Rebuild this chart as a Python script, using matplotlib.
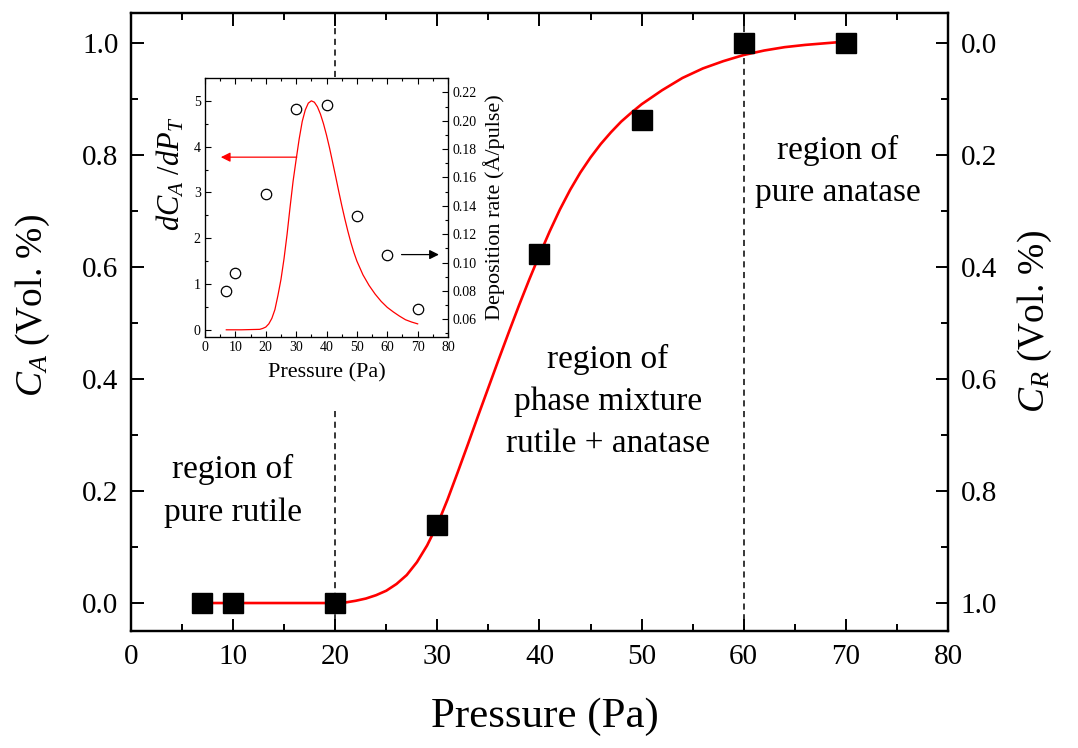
import matplotlib

matplotlib.use("Agg")
import matplotlib.pyplot as plt
from matplotlib.ticker import FormatStrFormatter, MultipleLocator

plt.rcParams["font.family"] = ["Liberation Serif", "DejaVu Serif"]
plt.rcParams["mathtext.fontset"] = "custom"
plt.rcParams["mathtext.rm"] = "Liberation Serif"
plt.rcParams["mathtext.it"] = "Liberation Serif:italic"

# Anatase fraction measured at each deposition pressure
pressure = [7, 10, 20, 30, 40, 50, 60, 70]
anatase_frac = [0.0, 0.0, 0.0, 0.14, 0.623, 0.862, 1.0, 1.0]

# Sigmoidal fit of the anatase fraction
fit_p = [7, 10, 15, 20, 21, 22, 23, 24, 25, 26, 27, 28, 29, 30, 31, 32, 33,
         34, 35, 36, 37, 38, 39, 40, 41, 42, 43, 44, 45, 46, 47, 48, 49, 50,
         52, 54, 56, 58, 60, 62, 64, 66, 68, 70]
fit_ca = [0.0, 0.0, 0.0, 0.0, 0.001, 0.004, 0.008, 0.014, 0.022, 0.034,
          0.050, 0.073, 0.103, 0.140, 0.185, 0.234, 0.284, 0.335, 0.385,
          0.435, 0.484, 0.532, 0.578, 0.622, 0.664, 0.703, 0.738, 0.769,
          0.796, 0.820, 0.841, 0.860, 0.876, 0.891, 0.916, 0.938, 0.955,
          0.968, 0.979, 0.987, 0.993, 0.997, 1.000, 1.003]

# Derivative of the fit (inset, left axis)
deriv_p = [7, 12, 18, 19, 20, 21, 22, 23, 24, 25, 26, 27, 28, 29, 30, 31, 32,
           33, 34, 35, 36, 37, 38, 39, 40, 41, 42, 43, 44, 45, 46, 47, 48, 49,
           50, 52, 54, 56, 58, 60, 62, 64, 66, 68, 70]
deriv_val = [0.0, 0.0, 0.01, 0.03, 0.06, 0.13, 0.25, 0.44, 0.75, 1.10, 1.55,
             2.08, 2.68, 3.25, 3.72, 4.17, 4.55, 4.80, 4.95, 5.0, 4.97, 4.87,
             4.71, 4.50, 4.25, 3.97, 3.66, 3.35, 3.03, 2.72, 2.43, 2.16, 1.91,
             1.69, 1.50, 1.20, 0.97, 0.78, 0.62, 0.49, 0.39, 0.30, 0.22, 0.17,
             0.13]

# Deposition rate (inset, right axis)
rate = [0.0802, 0.0925, 0.1485, 0.2083, 0.2113, 0.1325, 0.1054, 0.0671]

fig = plt.figure(figsize=(10.78, 7.48), dpi=100)
ax = fig.add_axes([0.1215, 0.1564, 0.7579, 0.8262])

ax.plot(fit_p, fit_ca, color="red", lw=1.9, zorder=3)
ax.plot(pressure, anatase_frac, ls="none", marker="s", ms=14,
        color="black", zorder=4)

dash = (0, (4, 3))
ax.axvline(20, ymin=0.0, ymax=0.358, color="black", ls=dash, lw=1.1)
ax.axvline(20, ymin=0.896, ymax=1.0, color="black", ls=dash, lw=1.1)
ax.axvline(60, color="black", ls=dash, lw=1.1, zorder=2)

ax.set_xlim(0, 80)
ax.set_ylim(-0.05, 1.054)
ax.xaxis.set_major_locator(MultipleLocator(10))
ax.xaxis.set_minor_locator(MultipleLocator(5))
ax.yaxis.set_major_locator(MultipleLocator(0.2))
ax.yaxis.set_minor_locator(MultipleLocator(0.1))
ax.yaxis.set_major_formatter(FormatStrFormatter("%.1f"))
ax.tick_params(which="both", direction="in", top=True, width=1.4,
               labelsize=21)
ax.tick_params(which="major", length=9, pad=9)
ax.tick_params(which="minor", length=5)
for s in ax.spines.values():
    s.set_linewidth(1.6)
ax.set_xlabel("Pressure (Pa)", fontsize=31)
ax.xaxis.set_label_coords(0.507, -0.108)
ax.set_ylabel("$C_A$ (Vol. %)", fontsize=27)
ax.yaxis.set_label_coords(-0.097, 0.527)

text_kw = dict(ha="center", va="center", fontsize=24, linespacing=1.5)
ax.text(10, 0.2, "region of\npure rutile", **text_kw)
ax.text(46.7, 0.36, "region of\nphase mixture\nrutile + anatase", **text_kw)
ax.text(69.2, 0.771, "region of\npure anatase", **text_kw)

# Rutile fraction on the mirrored right axis
ax_r = ax.twinx()
ax_r.set_ylim(1.05, -0.054)
ax_r.yaxis.set_major_locator(MultipleLocator(0.2))
ax_r.yaxis.set_minor_locator(MultipleLocator(0.1))
ax_r.yaxis.set_major_formatter(FormatStrFormatter("%.1f"))
ax_r.tick_params(which="both", direction="in", width=1.4, labelsize=21)
ax_r.tick_params(which="major", length=9, pad=9)
ax_r.tick_params(which="minor", length=5)
for s in ax_r.spines.values():
    s.set_linewidth(1.6)
ax_r.set_ylabel("$C_R$ (Vol. %)", fontsize=27)
ax_r.yaxis.set_label_coords(1.083, 0.5)

# Inset: derivative of the fit and deposition rate
ax_in = fig.add_axes([0.1902, 0.5499, 0.2254, 0.3459])
ax_in.set_zorder(5)
ax_in.plot(deriv_p, deriv_val, color="red", lw=0.9)
ax_in.set_xlim(0, 80)
ax_in.set_ylim(-0.15, 5.5)
ax_in.xaxis.set_major_locator(MultipleLocator(10))
ax_in.xaxis.set_minor_locator(MultipleLocator(5))
ax_in.yaxis.set_major_locator(MultipleLocator(1))
ax_in.yaxis.set_minor_locator(MultipleLocator(0.5))
ax_in.tick_params(which="both", direction="in", top=True, labelsize=10,
                  width=0.8, pad=3)
ax_in.tick_params(which="major", length=4)
ax_in.tick_params(which="minor", length=2)
for s in ax_in.spines.values():
    s.set_linewidth(0.9)
ax_in.set_xlabel("Pressure (Pa)", fontsize=16, labelpad=7)
ax_in.set_ylabel(r"$dC_A\ /dP_T$", fontsize=22)
ax_in.yaxis.set_label_coords(-0.075, 0.63)
ax_in.annotate("", xy=(5.2, 3.77), xytext=(30.2, 3.77),
               arrowprops=dict(arrowstyle="-|>", color="red", lw=0.9,
                               mutation_scale=14, shrinkA=0, shrinkB=0))

ax_in_r = ax_in.twinx()
ax_in_r.plot(pressure, rate, ls="none", marker="o", ms=7.5, mfc="white",
             mec="black", mew=0.9)
ax_in_r.set_ylim(0.0477, 0.2302)
ax_in_r.yaxis.set_major_locator(MultipleLocator(0.02))
ax_in_r.yaxis.set_minor_locator(MultipleLocator(0.01))
ax_in_r.yaxis.set_major_formatter(FormatStrFormatter("%.2f"))
ax_in_r.tick_params(which="both", direction="in", labelsize=10, width=0.8,
                    pad=3)
ax_in_r.tick_params(which="major", length=4)
ax_in_r.tick_params(which="minor", length=2)
ax_in_r.set_ylabel("Deposition rate (Å/pulse)", fontsize=16, labelpad=5)
ax_in_r.annotate("", xy=(77, 0.1056), xytext=(64.7, 0.1056),
                 arrowprops=dict(arrowstyle="-|>", color="black", lw=0.9,
                                 mutation_scale=14, shrinkA=0, shrinkB=0))

fig.savefig("out.png", dpi=100)
